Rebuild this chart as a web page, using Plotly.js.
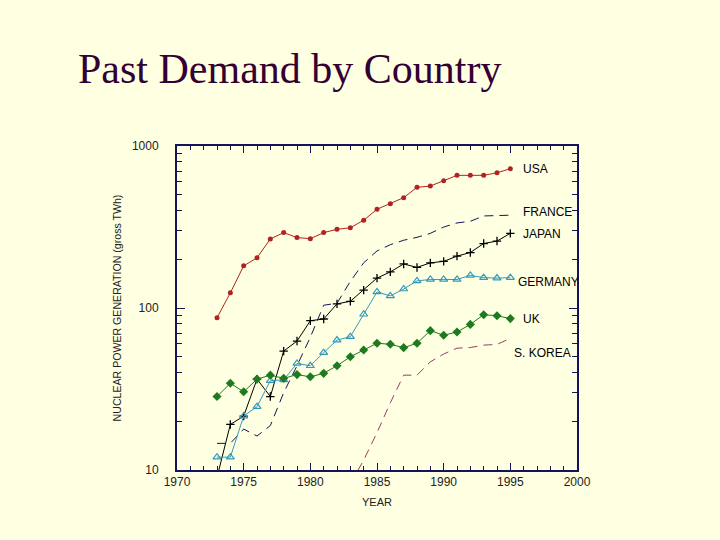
<!DOCTYPE html>
<html>
<head>
<meta charset="utf-8">
<script src="https://cdn.plot.ly/plotly-3.0.1.min.js"></script>
<style>
  html, body { margin: 0; padding: 0; background: #FFFFE1; }
  #chart { width: 720px; height: 540px; }
</style>
</head>
<body>
<div id="chart"></div>
<script>
// Nuclear power generation, gross TWh, by year
const years = [1973, 1974, 1975, 1976, 1977, 1978, 1979, 1980, 1981, 1982, 1983, 1984,
               1985, 1986, 1987, 1988, 1989, 1990, 1991, 1992, 1993, 1994, 1995];

const usa     = [87, 124, 182, 204, 267, 292, 272, 268, 292, 306, 313, 348,
                 407, 440, 480, 556, 566, 611, 659, 659, 659, 684, 724];
const france  = [14.6, 14.6, 17.9, 16.2, 18.8, 30, 44, 66, 104, 107, 146, 190,
                 225, 246, 262, 273, 289, 316, 335, 343, 370, 373, 374];
const japan   = [9.0, 19.1, 21.5, 36.4, 28.4, 54.2, 62.5, 83.5, 85.5, 106, 110, 129,
                 153, 167, 187, 178, 190, 194, 209, 220, 250, 259, 289];
const germany = [12.0, 12.0, 21.5, 24.6, 35.6, 36.0, 45.5, 44.0, 53.0, 63.4, 66.5, 91.5,
                 125.6, 118.8, 131, 147, 150, 150, 150, 159, 154, 153, 154];
const uk      = [28.4, 34.3, 30.4, 36.4, 38.5, 36.8, 38.8, 37.6, 39.5, 44.0, 50.0, 55.0,
                 60.6, 59.7, 56.9, 60.6, 72.5, 67.9, 71.1, 79.2, 90.9, 89.6, 86.0];

const koreaYears = [1983, 1984, 1985, 1986, 1987, 1988, 1989, 1990, 1991, 1992, 1993, 1994, 1995];
const korea      = [8.2, 11.5, 17, 26, 38.5, 38.5, 46.5, 52, 56.5, 57, 59, 59.6, 65];

const countryNames = ['USA', 'FRANCE', 'JAPAN', 'GERMANY', 'UK', 'S. KOREA'];

const yTickVals  = [10, 100, 1000];
const yTickText  = ['10', '100', '1000'];
const yMinorVals = [20, 30, 40, 50, 60, 70, 80, 90, 200, 300, 400, 500, 600, 700, 800, 900];

const traces = [
  { x: years, y: usa, name: countryNames[0], mode: 'lines+markers',
    line: { color: '#B22222', width: 1 },
    marker: { symbol: 'circle', size: 5, color: '#B22222' } },
  { x: years, y: france, name: countryNames[1], mode: 'lines',
    line: { color: '#14145A', width: 1, dash: '9px,6px' } },
  { x: years, y: japan, name: countryNames[2], mode: 'lines+markers',
    line: { color: '#000000', width: 1 },
    marker: { symbol: 'cross-thin', size: 6, color: '#000000',
              line: { color: '#000000', width: 1.3 } } },
  { x: years, y: germany, name: countryNames[3], mode: 'lines+markers',
    line: { color: '#3399BB', width: 1 },
    marker: { symbol: 'triangle-up-open', size: 7, color: '#3399BB',
              line: { color: '#3399BB', width: 1.2 } } },
  { x: years, y: uk, name: countryNames[4], mode: 'lines+markers',
    line: { color: '#1E7A1E', width: 1 },
    marker: { symbol: 'diamond', size: 7, color: '#1E7A1E' } },
  { x: koreaYears, y: korea, name: countryNames[5], mode: 'lines',
    line: { color: '#A0386A', width: 1, dash: '9px,6px' } }
];

// Series labels sit beside the 1995 end points
const labelSpecs = [
  { text: countryNames[0], x: 1995.8, y: 722 },
  { text: countryNames[1], x: 1995.8, y: 392 },
  { text: countryNames[2], x: 1995.8, y: 286 },
  { text: countryNames[3], x: 1995.4, y: 144 },
  { text: countryNames[4], x: 1995.8, y: 86 },
  { text: countryNames[5], x: 1995.1, y: 53 }
];
const annotations = labelSpecs.map(s => ({
  text: s.text, x: s.x, y: Math.log10(s.y), xref: 'x', yref: 'y',
  xanchor: 'left', yanchor: 'middle', showarrow: false,
  font: { family: 'Liberation Sans, Arial, sans-serif', size: 12, color: '#000000' }
}));

const axisColor = '#14145A';
const tickFont = { family: 'Liberation Sans, Arial, sans-serif', size: 12, color: '#222222' };

const layout = {
  width: 720, height: 540,
  paper_bgcolor: '#FFFFE1', plot_bgcolor: '#FFFFE1',
  margin: { l: 177, r: 143, t: 146, b: 70 },
  showlegend: false,
  title: {
    text: 'Past Demand by Country',
    font: { family: 'Liberation Serif, Times New Roman, serif', size: 42, color: '#330033' },
    x: 78 / 720, xref: 'container', xanchor: 'left',
    y: 1 - 68 / 540, yref: 'container', yanchor: 'middle'
  },
  xaxis: {
    range: [1970, 2000], dtick: 5, tick0: 1970,
    ticks: 'inside', ticklen: 7, tickwidth: 1, tickcolor: axisColor,
    minor: { dtick: 1, ticks: 'inside', ticklen: 4, tickwidth: 1, tickcolor: axisColor },
    showline: true, linecolor: axisColor, linewidth: 2, mirror: 'ticks',
    showgrid: false, zeroline: false,
    tickfont: tickFont,
    title: { text: 'YEAR', standoff: 10,
             font: { family: 'Liberation Sans, Arial, sans-serif', size: 11, color: '#222222' } }
  },
  yaxis: {
    type: 'log', range: [1, 3],
    tickmode: 'array', tickvals: yTickVals, ticktext: yTickText,
    ticks: 'inside', ticklen: 8, tickwidth: 1, tickcolor: axisColor,
    minor: { tickmode: 'array', tickvals: yMinorVals, ticks: 'inside', ticklen: 5,
             tickwidth: 1, tickcolor: axisColor },
    showline: true, linecolor: axisColor, linewidth: 2, mirror: 'ticks',
    showgrid: false, zeroline: false,
    ticklabelstandoff: 14,
    tickfont: tickFont,
    title: { text: 'NUCLEAR POWER GENERATION (gross TWh)', standoff: 8,
             font: { family: 'Liberation Sans, Arial, sans-serif', size: 10.6, color: '#222222' } }
  },
  annotations: annotations
};

Plotly.newPlot('chart', traces, layout, { staticPlot: true, displayModeBar: false });
</script>
</body>
</html>
